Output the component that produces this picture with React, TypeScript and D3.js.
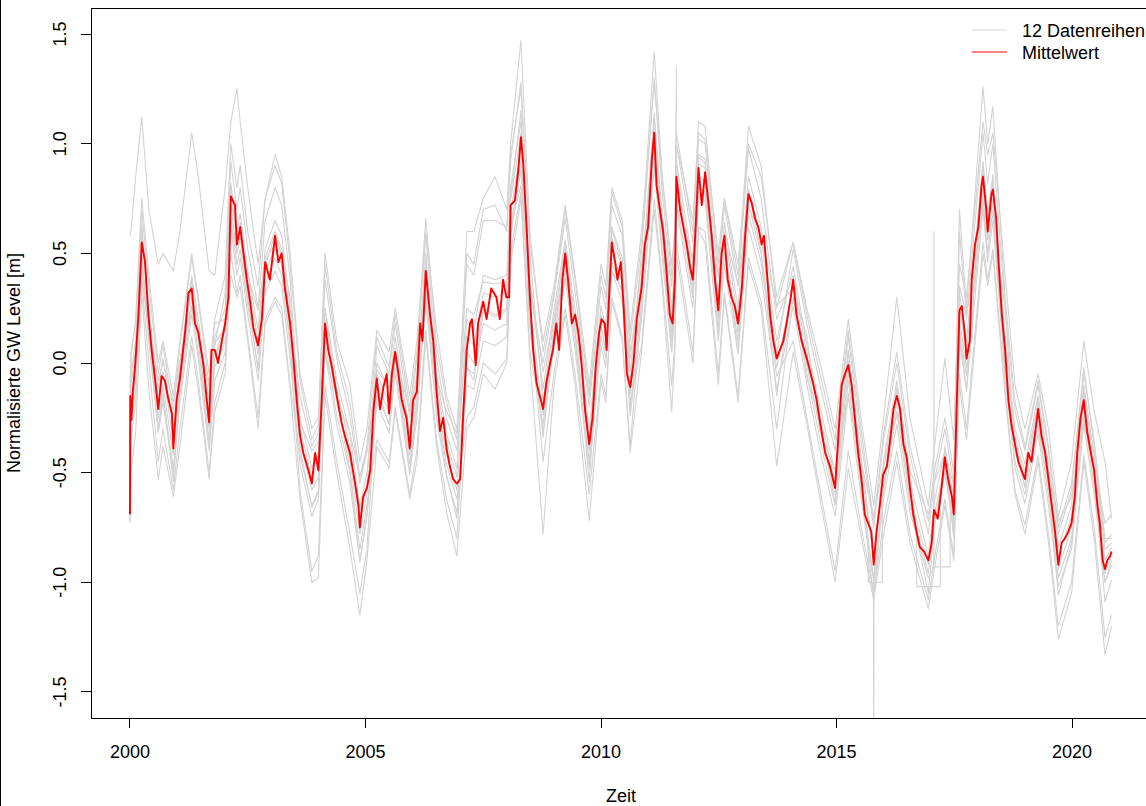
import React from "react";
import * as d3 from "d3";

// Gemeinsame Zeitachse der 12 Einzelreihen (Dezimaljahre)
const zeitReihen = [
  2000.00, 2000.02, 2000.12, 2000.25, 2000.40, 2000.60, 2000.70, 2000.92, 2001.06, 2001.31,
  2001.45, 2001.68, 2001.80, 2002.02, 2002.14, 2002.27, 2002.34, 2002.50, 2002.72, 2002.87,
  2003.08, 2003.22, 2003.40, 2003.61, 2003.86, 2004.00, 2004.14, 2004.39, 2004.67, 2004.88,
  2005.03, 2005.24, 2005.50, 2005.63, 2005.94, 2006.09, 2006.28, 2006.51, 2006.72, 2006.94,
  2007.15, 2007.30, 2007.50, 2007.75, 2008.00, 2008.08, 2008.30, 2008.49, 2008.77, 2009.00,
  2009.24, 2009.45, 2009.75, 2010.00, 2010.10, 2010.23, 2010.45, 2010.62, 2010.86, 2011.13,
  2011.30, 2011.50, 2011.57, 2011.60, 2011.95, 2012.07, 2012.21, 2012.49, 2012.62, 2012.91,
  2013.13, 2013.40, 2013.73, 2014.08, 2014.37, 2014.65, 2014.97, 2015.25, 2015.55, 2015.79,
  2016.00, 2016.28, 2016.56, 2016.95, 2017.07, 2017.30, 2017.49, 2017.61, 2017.76, 2018.11,
  2018.21, 2018.32, 2018.58, 2018.79, 2019.00, 2019.28, 2019.50, 2019.71, 2019.99, 2020.25,
  2020.47, 2020.70, 2020.84,
];

const reihe01 = [
  0.58, 0.60, 0.85, 1.12, 0.70, 0.45, 0.50, 0.42, 0.60, 1.05,
  0.85, 0.42, 0.40, 0.80, 1.10, 1.25, 1.10, 0.80, 0.45, 0.75,
  0.95, 0.85, 0.50, -0.05, -0.30, -0.25, 0.50, 0.10, -0.10, -0.45,
  -0.30, 0.15, 0.05, 0.25, -0.15, 0.10, 0.60, 0.15, -0.15, -0.30,
  0.45, 0.40, 0.65, 0.65, 0.62, 0.95, 1.25, 0.55, 0.10, 0.35,
  0.72, 0.40, -0.10, 0.45, 0.35, 0.80, 0.65, 0.15, 0.60, 1.28,
  0.85, 0.45, 0.60, 1.00, 0.65, 1.05, 1.02, 0.50, 0.75, 0.45,
  1.00, 0.85, 0.30, 0.55, 0.25, 0.00, -0.30, 0.20, -0.30, -0.65,
  -0.25, 0.30, -0.25, -0.65, -0.40, 0.02, -0.35, 0.45, 0.30, 1.10,
  0.95, 1.05, 0.40, -0.10, -0.30, -0.05, -0.30, -0.70, -0.45, 0.10,
  -0.22, -0.45, -0.71,
];

const reihe02 = [
  -0.73, -0.50, -0.32, 0.32, -0.12, -0.53, -0.38, -0.61, -0.38, 0.08,
  -0.12, -0.53, -0.22, -0.05, 0.40, 0.30, 0.35, 0.10, -0.30, 0.18,
  0.28, 0.22, -0.12, -0.62, -1.00, -0.98, -0.15, -0.50, -0.85, -1.15,
  -0.90, -0.38, -0.48, -0.22, -0.62, -0.45, 0.12, -0.38, -0.68, -0.88,
  -0.30, -0.25, -0.05, -0.12, 0.00, 0.45, 0.75, 0.02, -0.78, -0.10,
  0.22, -0.10, -0.72, -0.08, -0.18, 0.28, 0.10, -0.41, 0.05, 0.70,
  0.35, -0.22, 0.05, 0.50, 0.00, 0.60, 0.55, -0.10, 0.30, -0.18,
  0.45, 0.25, -0.47, 0.05, -0.28, -0.62, -1.00, -0.48, -0.82, -1.08,
  -0.78, -0.45, -0.82, -1.12, -0.95, -0.65, -0.90, -0.10, -0.35, 0.50,
  0.35, 0.50, -0.15, -0.60, -0.78, -0.45, -0.82, -1.26, -1.05, -0.45,
  -0.80, -1.33, -1.20,
];

const reihe03 = [
  -0.70, -0.35, -0.18, 0.38, 0.00, -0.45, -0.30, -0.58, -0.30, 0.12, -0.08, -0.50, -0.18,
  0.00, 0.50, 0.32, 0.40, 0.12, -0.25, 0.20, 0.30, 0.25, -0.10,
  -0.42, -0.65, -0.58, 0.10, -0.24, -0.50, -0.85, -0.65,
  -0.35, -0.45, -0.20, -0.60, -0.40, 0.15, -0.35, -0.62, -0.80,
  -0.02, -0.05, 0.18, 0.15, 0.18, 0.62, 0.92, 0.20,
  -0.45, -0.05, 0.25, -0.05, -0.60, -0.05, -0.15, 0.30, 0.12, -0.38,
  0.25, 0.95, 0.52, 0.10, 0.30, 0.75, 0.30, 0.80, 0.78, 0.15, 0.50, 0.10, 0.68, 0.46, -0.06,
  0.10, -0.25, -0.58, -0.95, -0.40, -0.78, -1.05, -0.72, -0.40, -0.78, -1.08, -0.90, -0.62, -0.88,
  0.15, -0.06, 0.75, 0.50, 0.70, -0.02, -0.45, -0.60, -0.28, -0.60, -0.98, -0.80, -0.24, -0.56, -1.00, -0.90,
];

const reihe04 = [
  -0.45, 0.02, 0.20, 0.75, 0.40, 0.00, 0.10, -0.15, 0.10, 0.50,
  0.30, -0.05, 0.20, 0.40, 1.00, 0.80, 0.90, 0.60, 0.35, 0.75,
  0.90, 0.82, 0.45, -0.08, -0.35, -0.28, 0.45, 0.05, -0.18, -0.52,
  -0.38, 0.12, -0.02, 0.22, -0.20, 0.05, 0.66, 0.08, -0.18, -0.35,
  0.60, 0.60, 0.75, 0.85, 0.70, 1.00, 1.47, 0.60, 0.05, 0.32,
  0.70, 0.38, -0.15, 0.40, 0.30, 0.78, 0.62, 0.10, 0.55, 1.42,
  0.85, 0.40, 0.62, 1.05, 0.60, 1.10, 1.08, 0.45, 0.75, 0.40,
  1.08, 0.90, 0.25, 0.55, 0.22, -0.05, -0.35, 0.15, -0.35, -0.72,
  -0.32, 0.05, -0.38, -0.72, -0.50, -0.25, -0.50, 0.70, 0.25, 1.26,
  1.00, 1.17, 0.30, -0.18, -0.38, -0.08, -0.38, -0.75, -0.55, -0.05,
  -0.35, -0.80, -0.80,
];

const reihe05 = [
  -0.60, -0.20, -0.05, 0.50, 0.15, -0.25, -0.10, -0.42, -0.10, 0.30,
  0.10, -0.30, 0.02, 0.15, 0.72, 0.50, 0.58, 0.30, 0.04, 0.42,
  0.52, 0.45, 0.14, -0.36, -0.58, -0.52, 0.14, -0.18, -0.44, -0.78,
  -0.60, -0.10, -0.22, 0.02, -0.42, -0.15, 0.38, -0.16, -0.42, -0.58,
  0.05, 0.00, 0.25, 0.22, 0.25, 0.68, 0.98, 0.26, -0.24, 0.15,
  0.46, 0.14, -0.40, 0.16, 0.06, 0.50, 0.38, -0.14, 0.30, 1.00,
  0.58, 0.14, 0.34, 0.80, 0.34, 0.85, 0.83, 0.20, 0.54, 0.14,
  0.72, 0.50, -0.02, 0.35, -0.01, -0.30, -0.60, -0.04, -0.58, -1.95,
  -0.55, -0.18, -0.60, -0.92, -0.70, -0.46, -0.72, 0.20, -0.02, 0.80,
  0.56, 0.75, 0.02, -0.40, -0.56, -0.24, -0.56, -0.94, -0.75, -0.20,
  -0.52, -0.96, -0.88,
];

const reihe06 = [
  -0.30, -0.05, 0.10, 0.60, 0.25, -0.12, 0.02, -0.30, 0.00, 0.40,
  0.20, -0.18, 0.12, 0.25, 0.82, 0.60, 0.68, 0.42, 0.15, 0.52,
  0.65, 0.58, 0.25, -0.25, -0.48, -0.42, 0.25, -0.08, -0.32, -0.66,
  -0.50, 0.00, -0.12, 0.12, -0.32, -0.06, 0.48, -0.06, -0.32, -0.48,
  0.20, 0.15, 0.40, 0.38, 0.40, 0.80, 1.10, 0.38, -0.12, 0.24,
  0.56, 0.24, -0.30, 0.26, 0.16, 0.62, 0.48, -0.04, 0.40, 1.12,
  0.68, 0.25, 0.45, 0.92, 0.45, 0.95, 0.93, 0.30, 0.64, 0.25,
  0.85, 0.62, 0.10, 0.44, 0.08, -0.20, -0.50, 0.06, -0.48, -0.88,
  -0.45, -0.08, -0.50, -1.02, -1.02, -0.38, -0.62, 0.32, 0.10, 0.92,
  0.68, 0.86, 0.12, -0.30, -0.46, -0.15, -0.46, -0.84, -0.65, -0.10,
  -0.42, -0.85, -0.82,
];

const reihe07 = [
  -0.65, -0.28, -0.12, 0.45, 0.10, -0.32, -0.18, -0.50, -0.18, 0.22,
  0.02, -0.40, -0.08, 0.05, 0.62, 0.40, 0.48, 0.22, -0.08, 0.32,
  0.42, 0.35, 0.02, -0.46, -0.70, -0.62, 0.05, -0.28, -0.55, -0.90,
  -0.70, -0.18, -0.32, -0.05, -0.50, -0.25, 0.30, -0.25, -0.52, -0.68,
  -0.10, -0.12, 0.10, 0.08, 0.12, 0.58, 0.88, 0.15, -0.32, 0.08,
  0.38, 0.06, -0.48, 0.08, -0.02, 0.42, 0.28, -0.24, 0.20, 0.90,
  0.48, 0.05, 0.25, 0.72, 0.25, 0.75, 0.74, 0.10, 0.45, 0.04,
  0.62, 0.40, -0.12, 0.26, -0.10, -0.40, -0.70, -0.14, -0.66, -1.00,
  -0.62, -0.28, -0.68, -0.98, -0.93, -0.93, -0.80, 0.10, -0.12, 0.70,
  0.46, 0.65, -0.06, -0.48, -0.64, -0.32, -0.65, -1.02, -0.85, -0.28,
  -0.60, -1.00, -0.92,
];

const reihe08 = [
  -0.15, 0.05, 0.18, 0.70, 0.35, -0.05, 0.08, -0.22, 0.08, 0.48, 0.28, -0.10, 0.18,
  0.20, 0.78, 0.56, 0.64, 0.38, 0.10, 0.48, 0.60, 0.52, 0.20,
  -0.15, -0.38, -0.32, 0.38, 0.02, -0.24, -0.55, -0.40,
  -0.05, -0.18, 0.07, -0.36, -0.10, 0.44, -0.10, -0.36, -0.52,
  0.50, 0.45, 0.70, 0.72, 0.60, 0.92, 1.28, 0.50,
  -0.18, 0.20, 0.52, 0.20, -0.34, 0.22, 0.12, 0.57, 0.44, -0.08,
  0.50, 1.30, 0.78, 0.35, 0.55, 1.00, 0.55, 1.02, 1.00, 0.40, 0.72, 0.35, 0.98, 0.75, 0.20,
  0.40, 0.04, -0.24, -0.54, 0.01, -0.52, -0.90, -0.48, -0.12, -0.54, -0.88, -0.64, -0.40, -0.66,
  0.60, 0.20, 1.05, 0.82, 1.00, 0.25, -0.22, -0.40, -0.10, -0.40, -0.78, -0.58, -0.02, -0.38, -0.82, -0.78,
];

const reihe09 = [
  -0.72, -0.24, -0.05, 0.64, 0.20, -0.31, -0.14, -0.54, -0.14, 0.38,
  0.13, -0.39, 0.03, 0.18, 0.81, 0.54, 0.64, 0.30, -0.04, 0.44,
  0.59, 0.49, 0.09, -0.39, -0.66, -0.59, 0.25, -0.16, -0.49, -0.91,
  -0.69, -0.11, -0.28, 0.04, -0.51, -0.19, 0.50, -0.19, -0.51, -0.71,
  -0.02, -0.08, 0.24, 0.21, 0.24, 0.76, 1.15, 0.24, -0.34, 0.15,
  0.55, 0.15, -0.54, 0.18, 0.05, 0.61, 0.45, -0.21, 0.25, 1.14,
  0.60, 0.05, 0.30, 0.89, 0.30, 0.94, 0.91, 0.13, 0.55, 0.05,
  0.79, 0.51, -0.15, 0.39, -0.07, -0.26, -0.64, 0.06, -0.61, -1.08,
  -0.56, -0.11, -0.64, -1.05, -0.76, -0.46, -0.79, 0.15, -0.13, 0.91,
  0.60, 0.84, -0.08, -0.37, -0.57, -0.17, -0.57, -1.06, -0.82, -0.12,
  -0.52, -1.09, -0.99,
];

const reihe10 = [
  -0.40, -0.10, 0.05, 0.58, 0.22, -0.18, -0.04, -0.35, -0.05, 0.36, 0.16, -0.24, 0.08,
  0.32, 0.92, 0.70, 0.80, 0.52, 0.25, 0.65, 0.80, 0.72, 0.38,
  -0.30, -0.52, -0.46, 0.20, -0.12, -0.38, -0.72, -0.55,
  0.08, -0.05, 0.18, -0.25, 0.02, 0.58, 0.02, -0.25, -0.40,
  0.12, 0.08, 0.32, 0.30, 0.32, 0.74, 1.05, 0.32,
  0.00, 0.30, 0.66, 0.32, -0.20, 0.35, 0.25, 0.72, 0.58, 0.05,
  0.36, 1.07, 0.64, 0.20, 0.40, 0.87, 0.40, 0.91, 0.89, 0.26, 0.60, 0.20, 0.79, 0.57, 0.04,
  0.52, 0.18, -0.10, -0.40, 0.12, -0.40, -0.75, -0.35, 0.00, -0.42, -0.78, -0.55, -0.30, -0.55,
  0.26, 0.04, 0.87, 0.62, 0.81, 0.08, -0.34, -0.50, -0.18, -0.50, -0.88, -0.70, -0.14, -0.46, -0.90, -0.84,
];

const reihe11 = [
  -0.68, -0.22, -0.08, 0.48, 0.12, -0.30, -0.15, -0.48, -0.15, 0.26, 0.05, -0.35, -0.02,
  0.10, 0.66, 0.45, 0.52, 0.26, -0.02, 0.36, 0.48, 0.40, 0.08,
  -0.58, -0.95, -0.88, -0.10, -0.45, -0.78, -1.05, -0.85,
  -0.14, -0.28, -0.02, -0.46, -0.20, 0.34, -0.20, -0.46, -0.62,
  -0.25, -0.20, 0.00, -0.05, 0.02, 0.50, 0.78, 0.05,
  -0.28, 0.12, 0.42, 0.10, -0.45, 0.12, 0.02, 0.46, 0.32, -0.18,
  0.08, 0.75, 0.38, -0.10, 0.10, 0.55, 0.05, 0.62, 0.60, -0.05, 0.32, -0.15, 0.48, 0.28, -0.30,
  0.30, -0.05, -0.35, -0.65, -0.08, -0.62, -0.98, -0.58, -0.22, -0.64, -0.96, -0.75, -0.50, -0.76,
  -0.05, -0.30, 0.55, 0.38, 0.52, -0.12, -0.58, -0.74, -0.42, -0.78, -1.20, -1.00, -0.42, -0.75, -1.25, -1.15,
];

const reihe12 = [
  -0.36, -0.04, 0.05, 0.38, 0.17, -0.08, 0.01, -0.18, 0.01, 0.25,
  0.13, -0.11, 0.09, 0.16, 0.65, 0.51, 0.56, 0.40, 0.24, 0.47,
  0.54, 0.49, 0.30, -0.27, -0.40, -0.36, 0.04, -0.16, -0.32, -0.52,
  -0.41, -0.03, -0.11, 0.04, -0.22, -0.07, 0.26, -0.07, -0.22, -0.32,
  0.25, 0.22, 0.37, 0.36, 0.37, 0.62, 0.81, 0.37, -0.04, 0.20,
  0.39, 0.20, -0.13, 0.21, 0.15, 0.42, 0.34, 0.02, 0.45, 0.88,
  0.62, 0.36, 0.48, 0.76, 0.48, 0.78, 0.77, 0.39, 0.60, 0.36,
  0.71, 0.58, 0.26, 0.34, 0.12, -0.31, -0.49, -0.16, -0.48, -0.70,
  -0.46, -0.24, -0.49, -0.69, -0.55, -0.41, -0.56, 0.35, 0.22, 0.72,
  0.57, 0.68, 0.25, -0.39, -0.49, -0.30, -0.49, -0.72, -0.61, -0.27,
  -0.46, -0.73, -0.69,
];

// Messlücken und Ausreißer einzelner Reihen: [Zeit, Wert]
const zusatz05: [number, number][] = [
  [2015.67, -0.80], [2015.675, -1.00], [2015.785, -1.00],
  [2015.795, -1.00], [2015.97, -1.00], [2015.975, -0.62],
];
const zusatz06: [number, number][] = [
  [2016.70, -0.78], [2016.705, -1.02], [2017.20, -1.02], [2017.205, -0.62],
];
const zusatz07: [number, number][] = [
  [2011.597, 1.35], [2017.065, -0.93], [2017.068, 0.60],
  [2017.41, -0.93], [2017.415, -0.62],
];

// Mittelwert über alle Reihen: [Zeit, Wert]
const mittelwert: [number, number][] = [
  [2000.00, -0.69], [2000.005, -0.15], [2000.03, -0.26], [2000.06, -0.13], [2000.11, -0.01],
  [2000.18, 0.22], [2000.25, 0.55], [2000.32, 0.46], [2000.39, 0.22], [2000.46, 0.06],
  [2000.53, -0.07], [2000.60, -0.21], [2000.67, -0.06], [2000.74, -0.08], [2000.81, -0.16],
  [2000.89, -0.23], [2000.92, -0.39], [2000.99, -0.17], [2001.06, -0.07], [2001.17, 0.14],
  [2001.24, 0.32], [2001.31, 0.34], [2001.38, 0.18], [2001.45, 0.14], [2001.56, -0.01],
  [2001.63, -0.17], [2001.68, -0.27], [2001.73, 0.06], [2001.80, 0.06], [2001.87, 0.00],
  [2001.95, 0.10], [2002.02, 0.18], [2002.09, 0.30], [2002.14, 0.76], [2002.23, 0.72],
  [2002.27, 0.54], [2002.34, 0.62], [2002.41, 0.50], [2002.48, 0.38], [2002.55, 0.28],
  [2002.62, 0.16], [2002.72, 0.08], [2002.80, 0.20], [2002.87, 0.46], [2002.97, 0.38],
  [2003.08, 0.58], [2003.15, 0.46], [2003.22, 0.50], [2003.29, 0.34], [2003.40, 0.18],
  [2003.47, 0.02], [2003.54, -0.17], [2003.61, -0.33], [2003.68, -0.41], [2003.79, -0.49],
  [2003.86, -0.55], [2003.93, -0.41], [2004.00, -0.49], [2004.07, -0.17], [2004.14, 0.18],
  [2004.21, 0.06], [2004.28, -0.01], [2004.39, -0.15], [2004.49, -0.27], [2004.56, -0.33],
  [2004.67, -0.41], [2004.78, -0.55], [2004.85, -0.65], [2004.88, -0.75], [2004.95, -0.61],
  [2005.03, -0.57], [2005.10, -0.49], [2005.17, -0.21], [2005.24, -0.07], [2005.31, -0.21],
  [2005.38, -0.11], [2005.45, -0.05], [2005.50, -0.23], [2005.56, -0.05], [2005.63, 0.05],
  [2005.70, -0.05], [2005.77, -0.17], [2005.87, -0.25], [2005.94, -0.39], [2006.01, -0.17],
  [2006.09, -0.13], [2006.16, 0.18], [2006.21, 0.10], [2006.28, 0.42], [2006.37, 0.22],
  [2006.44, 0.10], [2006.51, -0.13], [2006.58, -0.31], [2006.65, -0.25], [2006.72, -0.39],
  [2006.79, -0.47], [2006.86, -0.53], [2006.94, -0.55], [2007.01, -0.53], [2007.08, -0.21],
  [2007.15, 0.06], [2007.22, 0.18], [2007.26, 0.20], [2007.34, -0.01], [2007.39, 0.18],
  [2007.50, 0.28], [2007.57, 0.20], [2007.67, 0.34], [2007.78, 0.30], [2007.85, 0.20],
  [2007.92, 0.38], [2007.99, 0.30], [2008.05, 0.30], [2008.08, 0.72], [2008.17, 0.74],
  [2008.24, 0.87], [2008.30, 1.03], [2008.35, 0.91], [2008.42, 0.62], [2008.49, 0.30],
  [2008.56, 0.06], [2008.63, -0.09], [2008.70, -0.15], [2008.77, -0.21], [2008.84, -0.09],
  [2008.91, -0.01], [2008.98, 0.06], [2009.05, 0.18], [2009.11, 0.06], [2009.18, 0.38],
  [2009.24, 0.50], [2009.30, 0.38], [2009.38, 0.18], [2009.45, 0.22], [2009.52, 0.14],
  [2009.59, -0.01], [2009.66, -0.21], [2009.75, -0.37], [2009.82, -0.25], [2009.89, -0.01],
  [2009.96, 0.14], [2010.01, 0.20], [2010.08, 0.18], [2010.12, 0.06], [2010.18, 0.34],
  [2010.23, 0.55], [2010.30, 0.46], [2010.35, 0.38], [2010.42, 0.46], [2010.48, 0.26],
  [2010.55, -0.05], [2010.62, -0.11], [2010.69, 0.00], [2010.76, 0.20], [2010.86, 0.34],
  [2010.93, 0.54], [2011.00, 0.62], [2011.08, 0.93], [2011.13, 1.05], [2011.18, 0.81],
  [2011.25, 0.70], [2011.32, 0.60], [2011.39, 0.42], [2011.46, 0.22], [2011.52, 0.18],
  [2011.57, 0.38], [2011.60, 0.85], [2011.68, 0.70], [2011.75, 0.62], [2011.82, 0.54],
  [2011.89, 0.44], [2011.95, 0.38], [2012.00, 0.58], [2012.07, 0.89], [2012.14, 0.72],
  [2012.21, 0.87], [2012.28, 0.73], [2012.35, 0.58], [2012.42, 0.38], [2012.49, 0.24],
  [2012.56, 0.50], [2012.62, 0.58], [2012.69, 0.38], [2012.77, 0.30], [2012.84, 0.26],
  [2012.91, 0.18], [2012.99, 0.34], [2013.06, 0.58], [2013.13, 0.77], [2013.20, 0.73],
  [2013.27, 0.66], [2013.34, 0.62], [2013.41, 0.54], [2013.46, 0.58], [2013.52, 0.42],
  [2013.59, 0.22], [2013.66, 0.10], [2013.73, 0.02], [2013.80, 0.06], [2013.87, 0.10],
  [2013.94, 0.18], [2014.03, 0.30], [2014.08, 0.38], [2014.15, 0.22], [2014.26, 0.10],
  [2014.37, 0.02], [2014.51, -0.10], [2014.58, -0.17], [2014.65, -0.27], [2014.76, -0.41],
  [2014.86, -0.47], [2014.97, -0.57], [2015.04, -0.33], [2015.11, -0.10], [2015.18, -0.05],
  [2015.25, -0.01], [2015.32, -0.10], [2015.39, -0.25], [2015.46, -0.41], [2015.53, -0.53],
  [2015.60, -0.69], [2015.67, -0.73], [2015.74, -0.77], [2015.79, -0.92], [2015.85, -0.77],
  [2015.92, -0.65], [2015.99, -0.51], [2016.07, -0.47], [2016.14, -0.35], [2016.21, -0.21],
  [2016.28, -0.15], [2016.35, -0.21], [2016.42, -0.37], [2016.49, -0.43], [2016.56, -0.57],
  [2016.63, -0.69], [2016.70, -0.77], [2016.77, -0.84], [2016.86, -0.86], [2016.95, -0.90],
  [2017.02, -0.82], [2017.07, -0.67], [2017.15, -0.71], [2017.23, -0.57], [2017.30, -0.43],
  [2017.37, -0.53], [2017.45, -0.61], [2017.49, -0.69], [2017.55, -0.21], [2017.61, 0.24],
  [2017.66, 0.26], [2017.73, 0.12], [2017.76, 0.02], [2017.83, 0.10], [2017.87, 0.38],
  [2017.94, 0.54], [2018.01, 0.62], [2018.08, 0.81], [2018.11, 0.85], [2018.18, 0.70],
  [2018.21, 0.60], [2018.29, 0.77], [2018.32, 0.79], [2018.39, 0.66], [2018.44, 0.46],
  [2018.51, 0.22], [2018.58, 0.06], [2018.65, -0.17], [2018.72, -0.29], [2018.79, -0.37],
  [2018.86, -0.45], [2018.93, -0.49], [2019.00, -0.53], [2019.07, -0.41], [2019.14, -0.45],
  [2019.21, -0.33], [2019.28, -0.21], [2019.35, -0.33], [2019.43, -0.41], [2019.50, -0.53],
  [2019.57, -0.65], [2019.64, -0.77], [2019.71, -0.92], [2019.78, -0.82], [2019.85, -0.80],
  [2019.92, -0.77], [2019.99, -0.73], [2020.06, -0.61], [2020.11, -0.41], [2020.18, -0.25],
  [2020.25, -0.17], [2020.32, -0.31], [2020.40, -0.41], [2020.47, -0.49], [2020.54, -0.65],
  [2020.59, -0.73], [2020.65, -0.90], [2020.70, -0.94], [2020.75, -0.90], [2020.81, -0.88],
  [2020.84, -0.86],
];

const jahre = [2000, 2005, 2010, 2015, 2020];
const pegelTicks = [-1.5, -1.0, -0.5, 0.0, 0.5, 1.0, 1.5];
const pegelLabels = ["-1.5", "-1.0", "-0.5", "0.0", "0.5", "1.0", "1.5"];
const legendeTexte = ["12 Datenreihen", "Mittelwert"];

const FONT = "'Liberation Sans', Arial, Helvetica, sans-serif";
const GRAU = "#d3d3d3";
const ROT = "#ff0000";

export default function App() {
  const W = 1146;
  const H = 806;
  const links = 91, rechts = 1151, oben = 8, unten = 718;

  const x = d3.scaleLinear().domain([1999.172, 2021.677]).range([links, rechts]);
  const y = d3.scaleLinear().domain([-1.619, 1.619]).range([unten, oben]);
  const linie = d3
    .line<[number, number]>()
    .defined((d) => Number.isFinite(d[1]))
    .x((d) => x(d[0]))
    .y((d) => y(d[1]));

  const reihen = [
    reihe01, reihe02, reihe03, reihe04, reihe05, reihe06,
    reihe07, reihe08, reihe09, reihe10, reihe11, reihe12,
  ];
  const zusaetze: Record<number, [number, number][]> = { 4: zusatz05, 5: zusatz06, 6: zusatz07 };

  const pfade = reihen.map((werte, i) => {
    const punkte: [number, number][] = zeitReihen.map((t, j) => [t, werte[j]] as [number, number]);
    const alle = punkte.concat(zusaetze[i] || []).sort((a, b) => a[0] - b[0]);
    return linie(alle) || "";
  });
  const mittelPfad = linie(mittelwert) || "";

  return (
    <svg
      width={W}
      height={H}
      viewBox={`0 0 ${W} ${H}`}
      style={{ position: "absolute", left: 0, top: 0, background: "#ffffff" }}
      fontFamily={FONT}
    >
      <rect x={0} y={0} width={W} height={H} fill="#ffffff" />
      <defs>
        <clipPath id="plotbereich">
          <rect x={links} y={oben} width={rechts - links} height={unten - oben} />
        </clipPath>
      </defs>

      <g clipPath="url(#plotbereich)" fill="none" strokeLinejoin="round">
        {pfade.map((p, i) => (
          <path key={i} d={p} stroke={GRAU} strokeWidth={1.1} />
        ))}
        <path d={mittelPfad} stroke={ROT} strokeWidth={1.9} />
      </g>

      {/* Rahmen */}
      <rect
        x={links}
        y={oben}
        width={rechts - links}
        height={unten - oben}
        fill="none"
        stroke="#000"
        strokeWidth={1}
        shapeRendering="crispEdges"
      />

      {/* x-Achse */}
      <g>
        {jahre.map((j) => (
          <g key={j}>
            <line x1={x(j)} x2={x(j)} y1={unten} y2={unten + 10} stroke="#000" shapeRendering="crispEdges" />
            <text x={x(j)} y={758} textAnchor="middle" fontSize={18} fill="#000">
              {j}
            </text>
          </g>
        ))}
        <text x={(links + rechts) / 2} y={802} textAnchor="middle" fontSize={18} fill="#000">
          Zeit
        </text>
      </g>

      {/* y-Achse */}
      <g>
        {pegelTicks.map((v, i) => (
          <g key={v}>
            <line x1={links - 10} x2={links} y1={y(v)} y2={y(v)} stroke="#000" shapeRendering="crispEdges" />
            <text
              x={66}
              y={y(v)}
              transform={`rotate(-90, 66, ${y(v)})`}
              textAnchor="middle"
              fontSize={18}
              fill="#000"
            >
              {pegelLabels[i]}
            </text>
          </g>
        ))}
        <text
          x={20}
          y={(oben + unten) / 2}
          transform={`rotate(-90, 20, ${(oben + unten) / 2})`}
          textAnchor="middle"
          fontSize={18}
          fill="#000"
        >
          Normalisierte GW Level [m]
        </text>
      </g>

      {/* Legende */}
      <g>
        <line x1={972} x2={1007} y1={30} y2={30} stroke={GRAU} strokeWidth={1.2} />
        <line x1={972} x2={1007} y1={52} y2={52} stroke={ROT} strokeWidth={1.2} />
        <text x={1022} y={36.5} fontSize={18} fill="#000">
          {legendeTexte[0]}
        </text>
        <text x={1022} y={58.5} fontSize={18} fill="#000">
          {legendeTexte[1]}
        </text>
      </g>

      {/* linker Bildrand */}
      <line x1={0.5} x2={0.5} y1={0} y2={H} stroke="#000" strokeWidth={1} />
    </svg>
  );
}
